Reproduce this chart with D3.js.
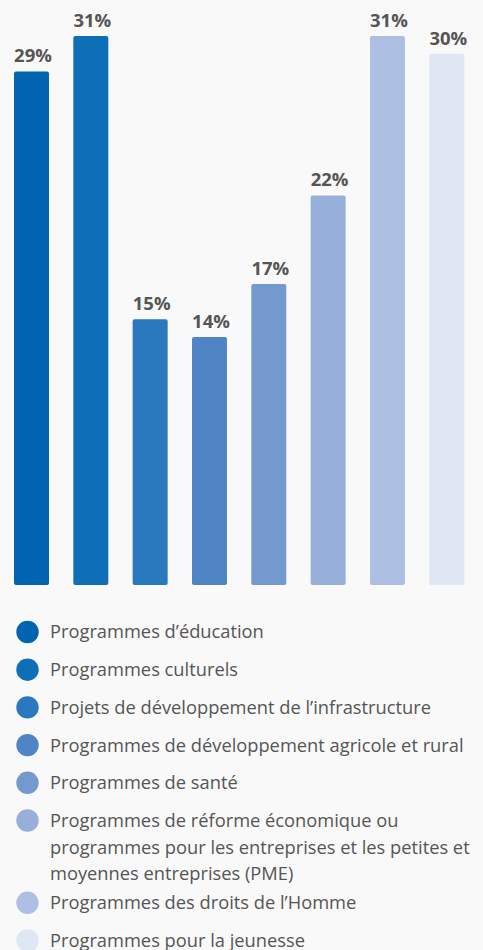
<!DOCTYPE html>
<html>
<head>
<meta charset="utf-8">
<script src="https://cdn.jsdelivr.net/npm/d3@7"></script>
<style>
    html, body { margin: 0; padding: 0; background: #f9f9f9; }
    svg { display: block; }
</style>
</head>
<body>
<div id="chart"></div>
<script>

const categories = [
    'Programmes d\u2019éducation',
    'Programmes culturels',
    'Projets de développement de l\u2019infrastructure',
    'Programmes de développement agricole et rural',
    'Programmes de santé',
    'Programmes de réforme économique ou\nprogrammes pour les entreprises et les petites et\nmoyennes entreprises (PME)',
    'Programmes des droits de l\u2019Homme',
    'Programmes pour la jeunesse'
];

const values = [29, 31, 15, 14, 17, 22, 31, 30];

const colors = ['#0064b0', '#0f6fb6', '#2a79bf', '#5085c5', '#7499cf', '#97b0da', '#adc0e3', '#e0e7f4'];

const width = 483;
const height = 950;

const svg = d3.select('#chart')
    .append('svg')
    .attr('width', width)
    .attr('height', height);

const x = d3.scaleBand()
    .domain(categories)
    .range([14, 464.3])
    .paddingInner(0.41)
    .paddingOuter(0);

const y = d3.scaleLinear()
    .domain([0, 31])
    .range([585, 36]);

const color = d3.scaleOrdinal()
    .domain(categories)
    .range(colors);

const data = categories.map(function (c, i) {
    return { name: c, value: values[i] };
});

// bars
svg.append('g')
    .selectAll('rect')
    .data(data)
    .enter()
        .append('rect')
        .attr('x', d => x(d.name))
        .attr('y', d => y(d.value))
        .attr('width', x.bandwidth())
        .attr('height', d => y(0) - y(d.value))
        .attr('rx', 2)
        .style('fill', d => color(d.name));

// value labels
svg.append('g')
    .selectAll('text')
    .data(data)
    .enter()
        .append('text')
        .attr('x', d => x(d.name) + x.bandwidth() / 2 + 1.5)
        .attr('y', d => y(d.value) - 9)
        .attr('text-anchor', 'middle')
        .style('font-family', '"Open Sans", sans-serif')
        .style('font-weight', 'bold')
        .style('font-size', '18.5px')
        .style('fill', '#555')
        .text(d => d.value + '%');

// legend
const lineHeight = 26.7;
let ly = 632;

const legend = svg.append('g')
    .style('font-family', '"Open Sans", sans-serif')
    .style('font-size', '18.3px')
    .style('fill', '#555');

data.forEach(function (d) {
    const lines = d.name.split('\n');

    legend.append('circle')
        .attr('cx', 27.5)
        .attr('cy', ly)
        .attr('r', 11.2)
        .style('fill', color(d.name));

    const t = legend.append('text')
        .attr('x', 50)
        .attr('y', ly);

    lines.forEach(function (l, i) {
        t.append('tspan')
            .attr('x', 50)
            .attr('dy', i === 0 ? '0.35em' : lineHeight)
            .text(l);
    });

    //multi-line items sit a bit tighter than single rows
    ly += 37.7 + (lines.length - 1) * 22.3;
});

</script>
</body>
</html>
